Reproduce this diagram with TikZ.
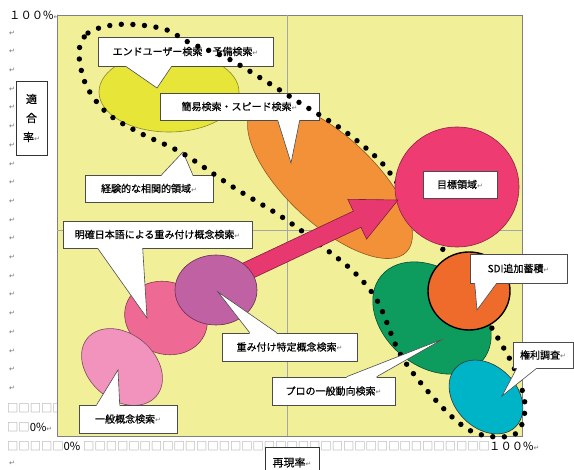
\documentclass[tikz,border=0pt]{standalone}
\usepackage{fontspec}
\newfontfamily\jp{Noto Sans CJK JP}
\newfontfamily\jpb[FakeBold=0.6]{Noto Sans CJK JP}
\newfontfamily\dv{DejaVu Sans}
\usetikzlibrary{calc}
\definecolor{plotbg}{RGB}{241,239,152}
\definecolor{cyel}{RGB}{231,229,55}
\definecolor{cora}{RGB}{243,145,56}
\definecolor{ctgt}{RGB}{238,59,114}
\definecolor{carr}{RGB}{232,56,112}
\definecolor{cpur}{RGB}{192,97,164}
\definecolor{cpmid}{RGB}{238,106,149}
\definecolor{cplt}{RGB}{242,147,190}
\definecolor{cgrn}{RGB}{14,155,94}
\definecolor{csdi}{RGB}{238,107,44}
\definecolor{ccyan}{RGB}{0,180,200}
\newcommand\rt{{\dv\fontsize{7}{7}\selectfont\color{black!55}↵}}
\newcommand\ptr[4]{%
  \fill[white] ($(#1)+#4$) -- (#1) -- (#3) -- (#2) -- ($(#2)+#4$) -- cycle;
  \draw[cline] (#1) -- (#3) -- (#2);}
\tikzset{
  cbox/.style={draw=black!70, line width=0.6pt, fill=white, inner sep=0pt,
    font=\jpb\fontsize{10}{12}\selectfont, align=center},
  cline/.style={draw=black!70, line width=0.6pt},
  shp/.style={line width=0.6pt},
  dotloop/.style={line width=5.4pt, line cap=round, dash pattern=on 0pt off 11.6pt},
  rowtxt/.style={inner sep=0pt, font=\jp\fontsize{11.3}{12}\selectfont, anchor=west},
  axbox/.style={draw=black!80, line width=0.7pt, fill=white, inner sep=0pt,
    font=\jpb\fontsize{11}{19}\selectfont, align=center},
}
\begin{document}
\begin{tikzpicture}[x=1pt,y=-1pt]
\useasboundingbox (0,0) rectangle (574,470);
\fill[white] (0,0) rectangle (574,470);

% left margin marks and rows
\foreach \i in {0,...,19} \node[inner sep=0pt] (lm\i) at (12,{33+18.7*\i}) {\rt};
\node[rowtxt] (top100) at (9,15) {１００\%\rt};
\node[rowtxt] (row1) at (7,408) {\color{black!40}□□□□□};
\node[rowtxt] (row2) at (7,427) {{\color{black!40}□□}0\%\rt};
\node[rowtxt] (row3a) at (7,446) {{\color{black!40}□□□□□}0\%};
\node[rowtxt] (row3b) at (83,446) {\color{black!40}□□□□□□□□□□□□□□□□□□□□□□□□□□□□□□□□□□□□};
\node[rowtxt] (row3c) at (489,446) {１００\%\rt};
\node[inner sep=0pt] (lmb) at (12,463) {\rt};

% plot area
\draw[fill=plotbg, draw=black!50, line width=0.7pt] (57,15) rectangle (522,436);
\draw[black!35, line width=0.5pt] (287,15) -- (287,436);
\draw[black!35, line width=0.5pt] (57,230) -- (522,230);

% background shapes
\filldraw[shp, fill=cyel, draw=cyel!60!black] (169,92) ellipse [x radius=70, y radius=40];
\filldraw[shp, fill=cora, draw=cora!60!black, rotate around={-43:(330,180)}] (330,180) ellipse [x radius=105, y radius=44];
\filldraw[shp, fill=cgrn, draw=cgrn!50!black, rotate around={-40:(432,318)}] (432,318) ellipse [x radius=66, y radius=48];
\filldraw[shp, fill=ccyan, draw=black!80, rotate around={-45:(486,397)}] (486,397) ellipse [x radius=42, y radius=31];

% callouts behind the loop
\node[cbox, minimum width=175, minimum height=29] (c1) at (185.5,51.5) {エンドユーザー検索・予備検索\rt};
\coordinate (c1a) at ($(c1.south west)+(28,0)$);
\coordinate (c1b) at ($(c1.south west)+(74,0)$);
\coordinate (c1t) at (157,88);
\ptr{c1a}{c1b}{c1t}{(0,-1.2)}

\node[cbox, minimum width=159, minimum height=27] (c2) at (239.5,106.5) {簡易検索・スピード検索\rt};
\coordinate (c2a) at ($(c2.south west)+(118,0)$);
\coordinate (c2b) at ($(c2.south west)+(140,0)$);
\coordinate (c2t) at (291,163);
\ptr{c2a}{c2b}{c2t}{(0,-1.2)}

\node[cbox, minimum width=128, minimum height=27] (c3) at (149,188.5) {経験的な相関的領域\rt};
\coordinate (c3a) at ($(c3.north west)+(77,0)$);
\coordinate (c3b) at ($(c3.north west)+(108,0)$);
\coordinate (c3t) at (183,152);
\ptr{c3a}{c3b}{c3t}{(0,1.2)}

% dotted loop
\draw[dotloop] plot[smooth cycle, tension=0.55] coordinates {
 (79,52) (88,33) (113,25) (140,25) (167,30) (190,43) (227,58) (267,82)
 (300,103) (343,130) (377,158) (395,180) (440,245) (493,330) (515,370)
 (525,405) (518,432) (498,437) (473,432) (450,415) (420,382) (398,350)
 (378,302) (355,273) (323,247) (282,217) (233,187) (182,153) (140,133)
 (107,113) (86,85)};

% target
\filldraw[shp, fill=ctgt, draw=ctgt!60!black] (457,187) ellipse [x radius=62, y radius=60];
\node[cbox, minimum width=74, minimum height=27] (c7) at (460,184.5) {目標領域\rt};

% SDI
\filldraw[line width=1.4pt, fill=csdi, draw=black] (469,291) ellipse [x radius=41, y radius=39];
\node[cbox, minimum width=97, minimum height=29] (c8) at (518.5,268.5) {SDI追加蓄積\rt};
\coordinate (c8a) at ($(c8.south west)+(5,0)$);
\coordinate (c8b) at ($(c8.south west)+(27,0)$);
\coordinate (c8t) at (477,310);
\ptr{c8a}{c8b}{c8t}{(0,-1.2)}

% big arrow
\filldraw[shp, fill=carr, draw=carr!55!black]
 (241.2,263.9) -- (353.4,211.1) -- (347.8,199.3) -- (398,200) -- (366.6,239.1) -- (361.0,227.3) -- (248.8,280.1) -- cycle;

% pies
\filldraw[shp, fill=cpmid, draw=cpmid!55!black, rotate around={-20:(166,318)}] (166,318) ellipse [x radius=42, y radius=36];
\filldraw[shp, fill=cplt, draw=cplt!50!black, rotate around={-40:(122,367)}] (122,367) ellipse [x radius=45, y radius=33];
\filldraw[shp, fill=cpur, draw=cpur!50!black] (216,290) ellipse [x radius=41, y radius=35];

% foreground callouts
\node[cbox, minimum width=189, minimum height=27] (c4) at (157.5,234.5) {明確日本語による重み付け概念検索\rt};
\coordinate (c4a) at ($(c4.south west)+(35,0)$);
\coordinate (c4b) at ($(c4.south west)+(80,0)$);
\coordinate (c4t) at (147,318);
\ptr{c4a}{c4b}{c4t}{(0,-1.2)}

\node[cbox, minimum width=135, minimum height=28] (c5) at (289.5,347) {重み付け特定概念検索\rt};
\coordinate (c5a) at ($(c5.north west)+(28,0)$);
\coordinate (c5b) at ($(c5.north west)+(55,0)$);
\coordinate (c5t) at (218,292);
\ptr{c5a}{c5b}{c5t}{(0,1.2)}

\node[cbox, minimum width=98, minimum height=28] (c6) at (128,419) {一般概念検索\rt};
\coordinate (c6a) at ($(c6.north west)+(18,0)$);
\coordinate (c6b) at ($(c6.north west)+(41,0)$);
\coordinate (c6t) at (118,370);
\ptr{c6a}{c6b}{c6t}{(0,1.2)}

\node[cbox, minimum width=60, minimum height=26] (c9) at (543,355) {権利調査\rt};
\coordinate (c9a) at ($(c9.south west)+(4,0)$);
\coordinate (c9b) at ($(c9.south west)+(24,0)$);
\coordinate (c9t) at (502,396);
\ptr{c9a}{c9b}{c9t}{(0,-1.2)}

\node[cbox, minimum width=123, minimum height=28] (c10) at (333.5,391) {プロの一般動向検索\rt};
\coordinate (c10a) at ($(c10.north west)+(75,0)$);
\coordinate (c10b) at ($(c10.north west)+(105,0)$);
\coordinate (c10t) at (443,339);
\ptr{c10a}{c10b}{c10t}{(0,1.2)}

% axis labels
\node[axbox, minimum width=31, minimum height=74] (yax) at (31.5,118) {適\\合\\率\rt};
\node[axbox, minimum width=54, minimum height=31] (xax) at (292,462.5) {再現率\rt};
\end{tikzpicture}
\end{document}
